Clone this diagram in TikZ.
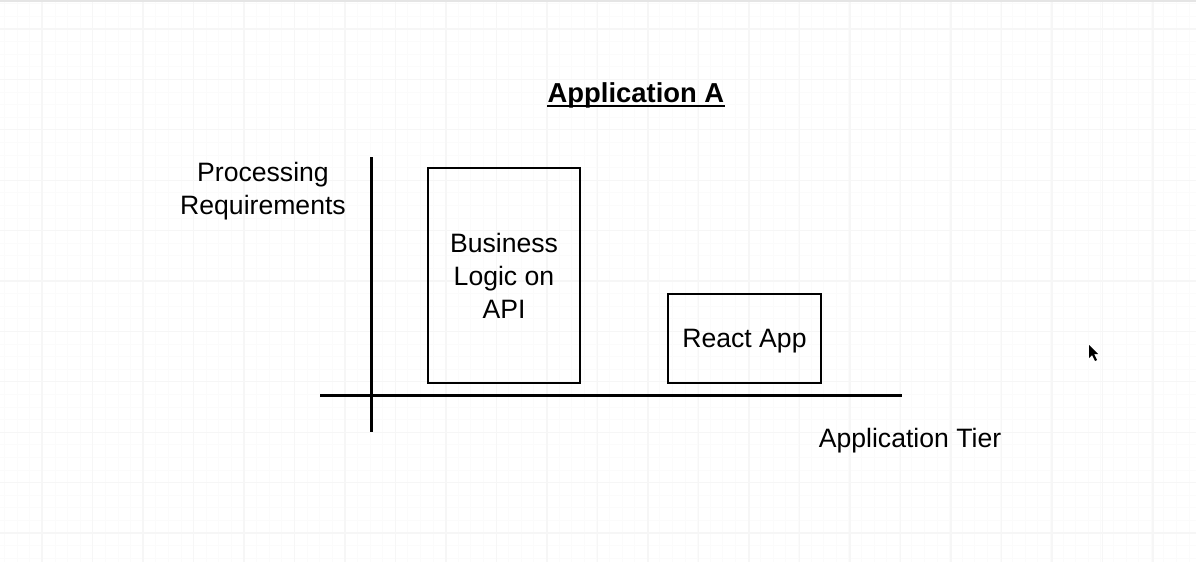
\documentclass[tikz,border=0pt]{standalone}
\usepackage{fontspec}
\setmainfont{Liberation Sans}
\usepackage{tikz}
\usetikzlibrary{positioning, calc}

\begin{document}
\begin{tikzpicture}[x=0.5pt, y=-0.5pt,
      % one unit is one pixel of the screenshot
      minorgrid/.style={black!1.5, line width=0.4pt},
      majorgrid/.style={black!3.5, line width=0.6pt},
      axis/.style={line width=1.5pt, black},
      tierbox/.style={draw, line width=1pt, align=center, inner sep=0pt,
      text depth=0pt, font=\fontsize{13.3pt}{16.5pt}\selectfont},
      axislabel/.style={align=center, font=\fontsize{13.3pt}{16.5pt}\selectfont},
      titlelabel/.style={inner sep=0pt, font=\fontsize{13.7pt}{16pt}\selectfont\bfseries} ]

    % Paper and grid
    \fill[white] (0,0) rectangle (1196,562);
    \useasboundingbox (0,0) rectangle (1196,562);
    \foreach \gx in {4.5,17.1,...,1196} \draw[minorgrid] (\gx,0) -- (\gx,562);
    \foreach \gy in {3.8,16.4,...,562} \draw[minorgrid] (0,\gy) -- (1196,\gy);
    \foreach \gx in {42,92.5,...,1196} \draw[majorgrid] (\gx,0) -- (\gx,562);
    \foreach \gy in {29,79.4,...,562} \draw[majorgrid] (0,\gy) -- (1196,\gy);
    \draw[black!10, line width=1pt] (0,1) -- (1196,1);

    % Title
    \node[titlelabel, anchor=base] (title) at (636,102) {Application A};
    \draw[line width=1pt] ([yshift=-2pt]title.base west) --
    ([yshift=-2pt]title.base east);

    % Axes
    \coordinate (ytop) at (371,157); \coordinate (ybot) at (371,432);
    \coordinate (xleft) at (320,395); \coordinate (xright) at (902,395);
    \draw[axis] (ytop) -- (ybot); \draw[axis] (xleft) -- (xright);

    % Axis labels
    \node[axislabel] (proc) at (263,191) {Processing\\Requirements};
    \node[axislabel] (tier) at (910,441) {Application Tier};

    % Tiers
    \node[tierbox, minimum width=76pt, minimum height=107.5pt] (api) at
    (504,275.5) {Business\\Logic on\\API};
    \node[tierbox, minimum width=76.5pt, minimum height=44.5pt] (react) at
    (744.5,338.5) {React App};

    % Mouse pointer
    \fill[black] (1089,345) -- (1089,358) -- (1092,355) -- (1095,361) --
    (1097,360) -- (1094,354) -- (1098,354) -- cycle;

\end{tikzpicture}
\end{document}
